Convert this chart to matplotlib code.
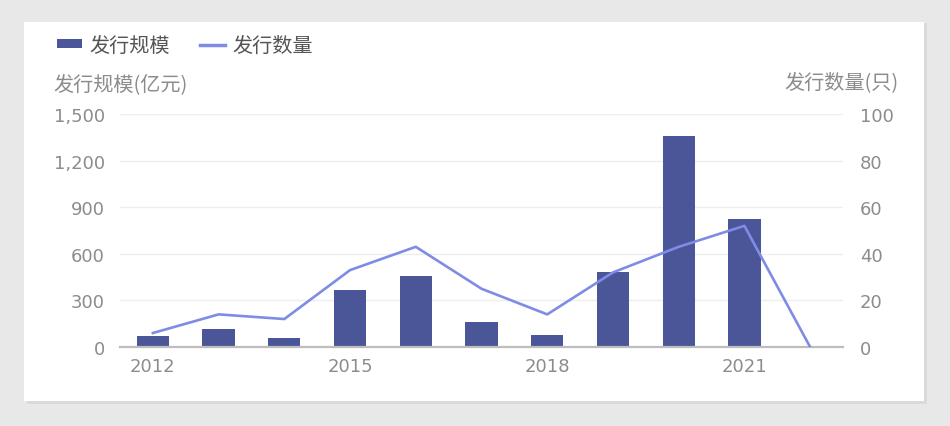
import matplotlib.pyplot as plt
import numpy as np
from matplotlib.patches import Rectangle, Patch
from matplotlib.lines import Line2D

plt.rcParams['font.family'] = ['Noto Sans CJK SC', 'DejaVu Sans']

years = [2012, 2013, 2014, 2015, 2016, 2017, 2018, 2019, 2020, 2021, 2022]
scale = [71, 116, 56, 370, 456, 160, 75, 483, 1356, 826, 0]   # 发行规模(亿元)
count = [6, 14, 12, 33, 43, 25, 14, 32, 43, 52, 0]            # 发行数量(只)
tick_years = ['2012', '2015', '2018', '2021']

bar_color = '#4b5699'
line_color = '#7f8ce6'
text_gray = '#8c8c8c'
num_font = ['DejaVu Sans']

fig = plt.figure(figsize=(9.5, 4.27), dpi=100, facecolor='#e8e8e8')

# 白色卡片背景 + 阴影
fig.patches.append(Rectangle((27 / 950, 1 - 405 / 427), 900 / 950, 381 / 427,
                             transform=fig.transFigure, facecolor='#dadada',
                             edgecolor='none', zorder=-2))
fig.patches.append(Rectangle((24 / 950, 1 - 402 / 427), 900 / 950, 379 / 427,
                             transform=fig.transFigure, facecolor='white',
                             edgecolor='none', zorder=-1))

ax = fig.add_axes([120 / 950, 1 - 348 / 427, 723 / 950, 233 / 427])
ax.set_facecolor('none')
x = np.arange(len(years))
ax.bar(x, scale, width=0.49, color=bar_color, zorder=2)
ax.set_xlim(-0.5, len(years) - 0.5)
ax.set_ylim(0, 1500)
ax.set_yticks([0, 300, 600, 900, 1200, 1500], ['0', '300', '600', '900', '1,200', '1,500'])
ax.set_xticks([years.index(int(t)) for t in tick_years], tick_years)
ax.grid(axis='y', color='#eeeeee', linewidth=1, zorder=0)
for s in ['top', 'right', 'left']:
    ax.spines[s].set_visible(False)
ax.spines['bottom'].set_color('#bdbdbd')
ax.spines['bottom'].set_linewidth(1.6)
ax.tick_params(axis='both', length=0, labelsize=13, labelcolor=text_gray)
ax.tick_params(axis='y', pad=11)
ax.tick_params(axis='x', pad=7)
for lab in ax.get_xticklabels() + ax.get_yticklabels():
    lab.set_family(num_font)

ax2 = ax.twinx()
ax2.plot(x, count, color=line_color, linewidth=1.9, zorder=3)
ax2.set_ylim(0, 100)
ax2.set_yticks([0, 20, 40, 60, 80, 100])
for s in ['top', 'right', 'left', 'bottom']:
    ax2.spines[s].set_visible(False)
ax2.tick_params(axis='y', length=0, labelsize=13, labelcolor=text_gray, pad=12)
for lab in ax2.get_yticklabels():
    lab.set_family(num_font)

# 轴标题
fig.text(53 / 950, 1 - 85 / 427, '发行规模(亿元)', fontsize=14.5, color=text_gray,
         ha='left', va='center')
fig.text(899 / 950, 1 - 83 / 427, '发行数量(只)', fontsize=14.5, color=text_gray,
         ha='right', va='center')

# 图例
handles = [Patch(facecolor=bar_color, edgecolor='none', label='发行规模'),
           Line2D([0], [0], color=line_color, linewidth=2.5, label='发行数量')]
fig.legend(handles=handles, loc='center left', bbox_to_anchor=(39 / 950, 1 - 46 / 427),
           ncol=2, frameon=False, fontsize=14.5, handlelength=1.25, handleheight=0.32,
           handletextpad=0.35, columnspacing=1.5, labelcolor='#555555')

plt.savefig('out.png', dpi=100, facecolor=fig.get_facecolor())
